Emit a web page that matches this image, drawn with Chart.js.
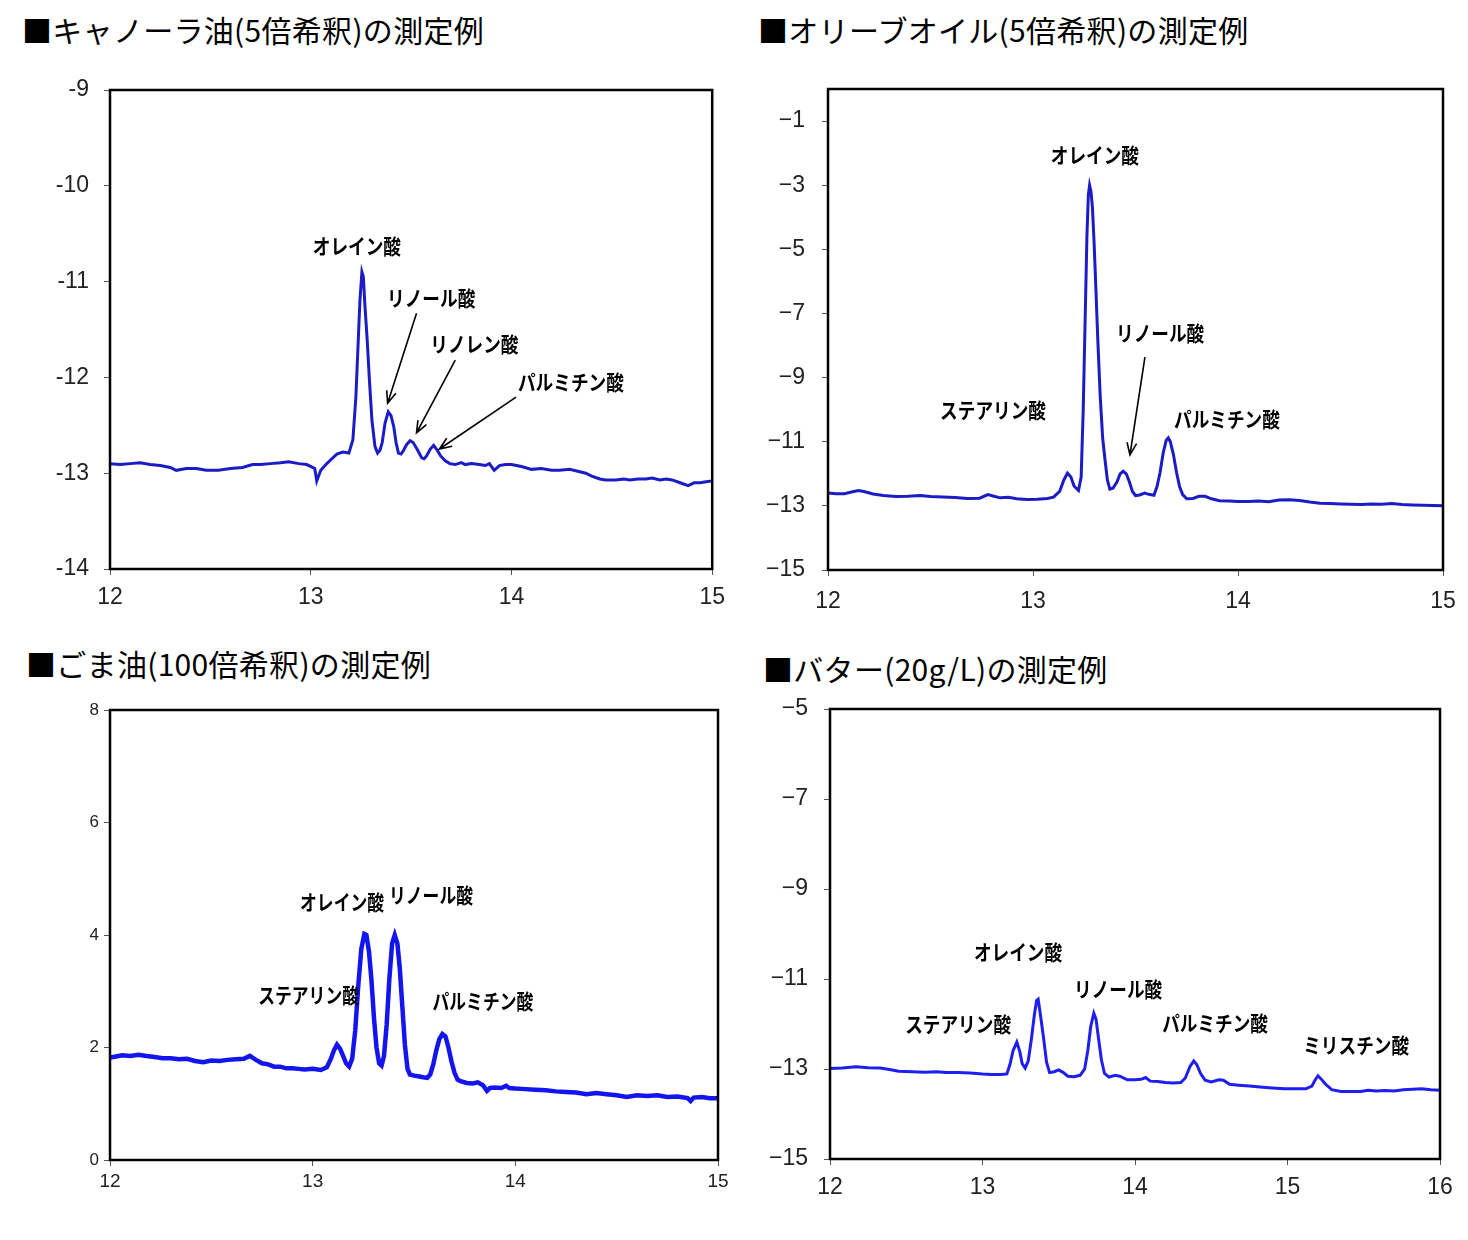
<!DOCTYPE html>
<html><head><meta charset="utf-8">
<script src="https://cdn.jsdelivr.net/npm/chart.js"></script>
<style>
body{margin:0;background:#fff;width:1468px;height:1240px;position:relative;overflow:hidden;}
.t{position:absolute;font-family:"Noto Sans CJK JP",sans-serif;font-size:30px;letter-spacing:0.3px;color:#000;white-space:nowrap;line-height:1;}
canvas{position:absolute;}
</style></head><body>
<div class="t" style="left:22px;top:14px">■キャノーラ油(5倍希釈)の測定例</div>
<div class="t" style="left:758px;top:14px">■オリーブオイル(5倍希釈)の測定例</div>
<div class="t" style="left:26px;top:648px">■ごま油(100倍希釈)の測定例</div>
<div class="t" style="left:763px;top:653px">■バター(20g/L)の測定例</div>
<canvas id="c1" width="734" height="580" style="left:0px;top:40px;width:734px;height:580px"></canvas>
<canvas id="c2" width="734" height="580" style="left:734px;top:40px;width:734px;height:580px"></canvas>
<canvas id="c3" width="734" height="580" style="left:0px;top:660px;width:734px;height:580px"></canvas>
<canvas id="c4" width="734" height="580" style="left:734px;top:660px;width:734px;height:580px"></canvas>
<script>
// ===== Canola =====
const canolaX = [12.00,12.05,12.10,12.15,12.20,12.25,12.30,12.33,12.38,12.43,12.48,12.54,12.60,12.66,12.71,12.75,12.80,12.85,12.89,12.94,12.98,13.02,13.03,13.05,13.08,13.10,13.13,13.16,13.19,13.21,13.225,13.235,13.245,13.255,13.262,13.27,13.281,13.293,13.305,13.32,13.333,13.345,13.356,13.37,13.386,13.40,13.414,13.425,13.437,13.45,13.46,13.478,13.495,13.51,13.53,13.553,13.565,13.577,13.595,13.612,13.63,13.647,13.67,13.693,13.72,13.75,13.77,13.80,13.84,13.87,13.89,13.914,13.94,13.97,14.00,14.05,14.10,14.15,14.20,14.24,14.29,14.33,14.37,14.40,14.44,14.47,14.52,14.56,14.59,14.63,14.67,14.70,14.74,14.77,14.80,14.84,14.88,14.91,14.94,14.97,15.00];
const canolaY = [-12.90,-12.91,-12.90,-12.89,-12.91,-12.92,-12.94,-12.97,-12.95,-12.95,-12.97,-12.97,-12.95,-12.94,-12.91,-12.91,-12.90,-12.89,-12.88,-12.90,-12.91,-12.95,-13.08,-12.97,-12.90,-12.86,-12.80,-12.78,-12.79,-12.65,-12.20,-11.70,-11.20,-10.90,-10.95,-11.25,-11.60,-12.05,-12.45,-12.72,-12.79,-12.76,-12.68,-12.48,-12.36,-12.40,-12.52,-12.68,-12.79,-12.80,-12.77,-12.70,-12.66,-12.68,-12.75,-12.84,-12.85,-12.82,-12.75,-12.71,-12.76,-12.82,-12.87,-12.90,-12.91,-12.89,-12.91,-12.90,-12.91,-12.92,-12.90,-12.97,-12.92,-12.91,-12.91,-12.93,-12.96,-12.95,-12.97,-12.97,-12.96,-12.98,-13.00,-13.03,-13.06,-13.07,-13.07,-13.06,-13.07,-13.06,-13.06,-13.05,-13.07,-13.06,-13.07,-13.10,-13.13,-13.10,-13.10,-13.09,-13.08];
const canolaXTicks = [12,13,14,15];
const canolaYTicks = [-9,-10,-11,-12,-13,-14];
const canolaYLabels = ["-9","-10","-11","-12","-13","-14"];
const canolaLabels = [
  {text:"オレイン酸", x:13.23, y:-10.63},
  {text:"リノール酸", x:13.60, y:-11.17},
  {text:"リノレン酸", x:13.815, y:-11.65},
  {text:"パルミチン酸", x:14.296, y:-12.05}
];
const canolaArrows = [
  [13.527,-11.33,13.383,-12.27],
  [13.72,-11.82,13.527,-12.58],
  [14.023,-12.205,13.641,-12.747]
];

// ===== Olive =====
const oliveX = [12.00,12.04,12.08,12.12,12.15,12.18,12.22,12.27,12.33,12.39,12.45,12.50,12.56,12.62,12.68,12.74,12.78,12.81,12.84,12.88,12.92,12.97,13.02,13.07,13.10,13.13,13.15,13.168,13.185,13.20,13.222,13.235,13.245,13.255,13.263,13.27,13.276,13.283,13.29,13.298,13.306,13.316,13.328,13.34,13.352,13.363,13.375,13.39,13.41,13.425,13.44,13.455,13.47,13.485,13.50,13.52,13.545,13.565,13.59,13.605,13.62,13.635,13.65,13.66,13.67,13.685,13.70,13.715,13.73,13.75,13.78,13.81,13.84,13.87,13.91,13.96,14.00,14.05,14.10,14.15,14.20,14.25,14.30,14.35,14.40,14.45,14.50,14.55,14.60,14.65,14.70,14.75,14.80,14.85,14.90,14.95,15.00];
const oliveY = [-12.60,-12.62,-12.62,-12.56,-12.52,-12.56,-12.63,-12.68,-12.71,-12.70,-12.68,-12.71,-12.72,-12.74,-12.77,-12.76,-12.65,-12.70,-12.75,-12.73,-12.78,-12.80,-12.79,-12.77,-12.73,-12.55,-12.20,-11.98,-12.10,-12.38,-12.52,-12.10,-10.00,-7.00,-4.60,-3.30,-3.00,-3.20,-3.70,-4.80,-6.10,-7.80,-9.60,-10.90,-11.60,-12.20,-12.48,-12.45,-12.25,-12.00,-11.92,-12.00,-12.25,-12.55,-12.68,-12.66,-12.60,-12.64,-12.67,-12.40,-11.95,-11.35,-10.95,-10.88,-11.00,-11.40,-11.95,-12.40,-12.65,-12.78,-12.77,-12.70,-12.70,-12.78,-12.84,-12.85,-12.86,-12.86,-12.85,-12.87,-12.82,-12.81,-12.83,-12.88,-12.92,-12.93,-12.94,-12.95,-12.96,-12.94,-12.95,-12.93,-12.96,-12.97,-12.98,-12.99,-13.00];
const oliveXTicks = [12,13,14,15];
const oliveYTicks = [-1,-3,-5,-7,-9,-11,-13,-15];
const oliveYLabels = ["−1","−3","−5","−7","−9","−11","−13","−15"];
const oliveLabels = [
  {text:"オレイン酸", x:13.302, y:-2.06},
  {text:"ステアリン酸", x:12.805, y:-10.01},
  {text:"リノール酸", x:13.62, y:-7.61},
  {text:"パルミチン酸", x:13.946, y:-10.29}
];
const oliveArrows = [
  [13.546,-8.36,13.473,-11.41]
];

// ===== Sesame =====
const sesameX = [12.00,12.03,12.06,12.10,12.14,12.18,12.22,12.26,12.30,12.34,12.38,12.42,12.46,12.50,12.54,12.58,12.62,12.66,12.69,12.72,12.75,12.78,12.81,12.84,12.87,12.90,12.93,12.96,13.00,13.04,13.07,13.09,13.105,13.12,13.135,13.15,13.165,13.18,13.195,13.21,13.225,13.24,13.255,13.265,13.278,13.29,13.303,13.315,13.328,13.34,13.352,13.365,13.378,13.392,13.405,13.418,13.43,13.443,13.455,13.468,13.48,13.50,13.52,13.545,13.565,13.58,13.595,13.61,13.625,13.64,13.655,13.67,13.685,13.70,13.715,13.73,13.76,13.79,13.815,13.84,13.86,13.875,13.90,13.93,13.955,13.97,14.00,14.05,14.10,14.15,14.20,14.25,14.30,14.35,14.40,14.45,14.50,14.55,14.60,14.65,14.70,14.75,14.80,14.85,14.865,14.88,14.92,14.96,15.00];
const sesameY = [1.82,1.84,1.86,1.85,1.87,1.85,1.83,1.81,1.81,1.79,1.80,1.76,1.74,1.77,1.76,1.78,1.79,1.80,1.85,1.78,1.72,1.70,1.66,1.66,1.63,1.63,1.62,1.61,1.62,1.60,1.65,1.80,1.95,2.05,1.98,1.85,1.72,1.66,1.80,2.30,3.10,3.75,4.02,4.00,3.70,3.20,2.50,2.00,1.72,1.68,1.85,2.40,3.20,3.85,4.00,3.85,3.40,2.70,2.05,1.62,1.52,1.50,1.49,1.47,1.46,1.52,1.70,1.95,2.15,2.24,2.20,2.00,1.75,1.55,1.43,1.40,1.37,1.36,1.38,1.33,1.23,1.28,1.29,1.28,1.32,1.28,1.27,1.26,1.25,1.24,1.22,1.21,1.20,1.17,1.19,1.17,1.15,1.12,1.15,1.14,1.15,1.12,1.13,1.10,1.05,1.11,1.12,1.10,1.10];
const sesameXTicks = [12,13,14,15];
const sesameYTicks = [0,2,4,6,8];
const sesameYLabels = ["0","2","4","6","8"];
const sesameLabels = [
  {text:"オレイン酸", x:13.145, y:4.587},
  {text:"リノール酸", x:13.584, y:4.71},
  {text:"ステアリン酸", x:12.98, y:2.93},
  {text:"パルミチン酸", x:13.84, y:2.83}
];
const sesameArrows = [];

// ===== Butter =====
const butterX = [12.00,12.08,12.17,12.25,12.33,12.39,12.45,12.54,12.62,12.70,12.76,12.84,12.92,13.00,13.06,13.12,13.16,13.18,13.20,13.225,13.245,13.26,13.28,13.30,13.32,13.34,13.355,13.365,13.38,13.40,13.42,13.44,13.47,13.50,13.53,13.56,13.60,13.64,13.67,13.69,13.71,13.73,13.745,13.76,13.78,13.80,13.83,13.87,13.90,13.95,14.00,14.04,14.07,14.10,14.15,14.20,14.25,14.30,14.33,14.36,14.385,14.405,14.43,14.46,14.50,14.55,14.58,14.62,14.68,14.75,14.82,14.90,14.98,15.05,15.12,15.16,15.18,15.20,15.22,15.25,15.29,15.35,15.42,15.48,15.53,15.58,15.64,15.70,15.76,15.82,15.88,15.94,16.00];
const butterY = [-12.99,-12.98,-12.95,-12.97,-12.98,-13.01,-13.05,-13.06,-13.07,-13.06,-13.08,-13.08,-13.09,-13.11,-13.12,-13.12,-13.11,-12.90,-12.60,-12.40,-12.62,-12.88,-12.98,-12.82,-12.35,-11.80,-11.48,-11.45,-11.80,-12.30,-12.85,-13.08,-13.06,-13.02,-13.08,-13.16,-13.17,-13.14,-13.00,-12.60,-12.05,-11.76,-11.90,-12.30,-12.80,-13.10,-13.18,-13.14,-13.16,-13.24,-13.24,-13.23,-13.19,-13.27,-13.28,-13.30,-13.31,-13.30,-13.20,-12.95,-12.82,-12.90,-13.10,-13.25,-13.29,-13.24,-13.25,-13.34,-13.36,-13.38,-13.40,-13.42,-13.44,-13.44,-13.44,-13.38,-13.25,-13.15,-13.22,-13.34,-13.46,-13.50,-13.50,-13.50,-13.47,-13.49,-13.48,-13.49,-13.46,-13.45,-13.44,-13.46,-13.47];
const butterXTicks = [12,13,14,15,16];
const butterYTicks = [-5,-7,-9,-11,-13,-15];
const butterYLabels = ["−5","−7","−9","−11","−13","−15"];
const butterLabels = [
  {text:"オレイン酸", x:13.233, y:-10.4},
  {text:"リノール酸", x:13.889, y:-11.22},
  {text:"ステアリン酸", x:12.84, y:-12.0},
  {text:"パルミチン酸", x:14.525, y:-11.98},
  {text:"ミリスチン酸", x:15.45, y:-12.47}
];
const butterArrows = [];

// ===== helpers =====
const boxPlugin = {
  id:'box',
  afterDatasetsDraw(chart){
    const a = chart.chartArea, ctx = chart.ctx;
    ctx.save();
    ctx.strokeStyle = '#000';
    ctx.lineWidth = 2.5;
    ctx.strokeRect(a.left, a.top, a.right - a.left, a.bottom - a.top);
    ctx.restore();
  }
};
const annoPlugin = {
  id:'anno',
  afterDraw(chart, args, opts){
    const ctx = chart.ctx, xs = chart.scales.x, ys = chart.scales.y;
    ctx.save();
    ctx.fillStyle = '#000';
    (opts.labels||[]).forEach(l=>{
      const px = xs.getPixelForValue(l.x), py = ys.getPixelForValue(l.y);
      ctx.save();
      ctx.translate(px, py);
      ctx.scale(opts.sx || 0.88, 1);
      ctx.font = 'bold 21px "Noto Sans CJK JP", sans-serif';
      ctx.textAlign = 'center';
      ctx.textBaseline = 'middle';
      ctx.fillText(l.text, 0, 0);
      ctx.restore();
    });
    ctx.strokeStyle = '#000';
    ctx.lineWidth = 1.6;
    (opts.arrows||[]).forEach(a=>{
      const x1 = xs.getPixelForValue(a[0]), y1 = ys.getPixelForValue(a[1]);
      const x2 = xs.getPixelForValue(a[2]), y2 = ys.getPixelForValue(a[3]);
      const ang = Math.atan2(y2 - y1, x2 - x1), h = 13, sp = 0.38;
      ctx.beginPath();
      ctx.moveTo(x1, y1); ctx.lineTo(x2, y2);
      ctx.moveTo(x2 - h*Math.cos(ang - sp), y2 - h*Math.sin(ang - sp));
      ctx.lineTo(x2, y2);
      ctx.lineTo(x2 - h*Math.cos(ang + sp), y2 - h*Math.sin(ang + sp));
      ctx.stroke();
    });
    ctx.restore();
  }
};

function makeChart(c){
  const [x0,y0,w,h] = c.canvas;
  const [L,T,R,B] = c.plot;
  new Chart(document.getElementById(c.id), {
    type:'line',
    data:{datasets:[{
      data: c.xs.map((x,i)=>({x:x, y:c.ys[i]})),
      borderColor:c.color, borderWidth:c.lw, pointRadius:0, tension:0, fill:false
    }]},
    options:{
      responsive:false, animation:false, events:[],
      layout:{padding:{left:0, top:T-y0, right:x0+w-R, bottom:0}},
      plugins:{legend:{display:false}, tooltip:{enabled:false}, anno:{labels:c.labels, arrows:c.arrows, sx:c.sx}},
      scales:{
        x:{type:'linear', min:c.xTicks[0], max:c.xTicks[c.xTicks.length-1],
          afterBuildTicks(s){ s.ticks = c.xTicks.map(v=>({value:v})); },
          afterFit(s){ s.height = y0+h-B; },
          ticks:{callback:(v,i)=>String(c.xTicks[i]), font:c.xFont, color:'#222', padding:c.xPad, maxRotation:0, autoSkip:false},
          grid:{drawOnChartArea:false, drawTicks:true, tickLength:6, color:'#555'},
          border:{display:true, color:'#000', width:2}
        },
        y:{type:'linear', min:Math.min(...c.yTicks, c.yMin), max:Math.max(...c.yTicks, c.yMax),
          afterBuildTicks(s){ s.ticks = c.yTicks.map(v=>({value:v})); },
          afterFit(s){ s.width = L-x0; },
          ticks:{callback:(v,i)=>c.yLabels[i], font:c.yFont, color:'#222', padding:c.yPad, autoSkip:false},
          grid:{drawOnChartArea:false, drawTicks:true, tickLength:6, color:'#555'},
          border:{display:true, color:'#000', width:2}
        }
      }
    },
    plugins:[boxPlugin, annoPlugin]
  });
}

const arial22 = {family:'"Liberation Sans", Arial, sans-serif', size:23};
makeChart({id:'c1', canvas:[0,40,734,580], plot:[110,90,715,569], xs:canolaX, ys:canolaY,
  xTicks:canolaXTicks, yTicks:canolaYTicks, yLabels:canolaYLabels, yMin:-14, yMax:-9,
  color:'#1c1cc4', lw:3, xFont:arial22, yFont:arial22, xPad:9, yPad:15,
  labels:canolaLabels, arrows:canolaArrows, sx:0.84});
makeChart({id:'c2', canvas:[734,40,734,580], plot:[828,89,1443,570], xs:oliveX, ys:oliveY,
  xTicks:oliveXTicks, yTicks:oliveYTicks, yLabels:oliveYLabels, yMin:-15, yMax:0,
  color:'#1c1cc4', lw:3, xFont:arial22, yFont:arial22, xPad:12, yPad:17,
  labels:oliveLabels, arrows:oliveArrows, sx:0.84});
makeChart({id:'c3', canvas:[0,660,734,580], plot:[110,710,718,1160], xs:sesameX, ys:sesameY,
  xTicks:sesameXTicks, yTicks:sesameYTicks, yLabels:sesameYLabels, yMin:0, yMax:8,
  color:'#1414ee', lw:4.5,
  xFont:{family:'"Liberation Sans Narrow", "Liberation Sans", sans-serif', size:19},
  yFont:{family:'"Liberation Sans Narrow", "Liberation Sans", sans-serif', size:17},
  xPad:4, yPad:5, labels:sesameLabels, arrows:sesameArrows, sx:0.8});
makeChart({id:'c4', canvas:[734,660,734,580], plot:[830,709,1440,1159], xs:butterX, ys:butterY,
  xTicks:butterXTicks, yTicks:butterYTicks, yLabels:butterYLabels, yMin:-15, yMax:-5,
  color:'#1e1ef0', lw:3, xFont:arial22, yFont:arial22, xPad:9, yPad:16,
  labels:butterLabels, arrows:butterArrows, sx:0.84});
</script>
</body></html>
